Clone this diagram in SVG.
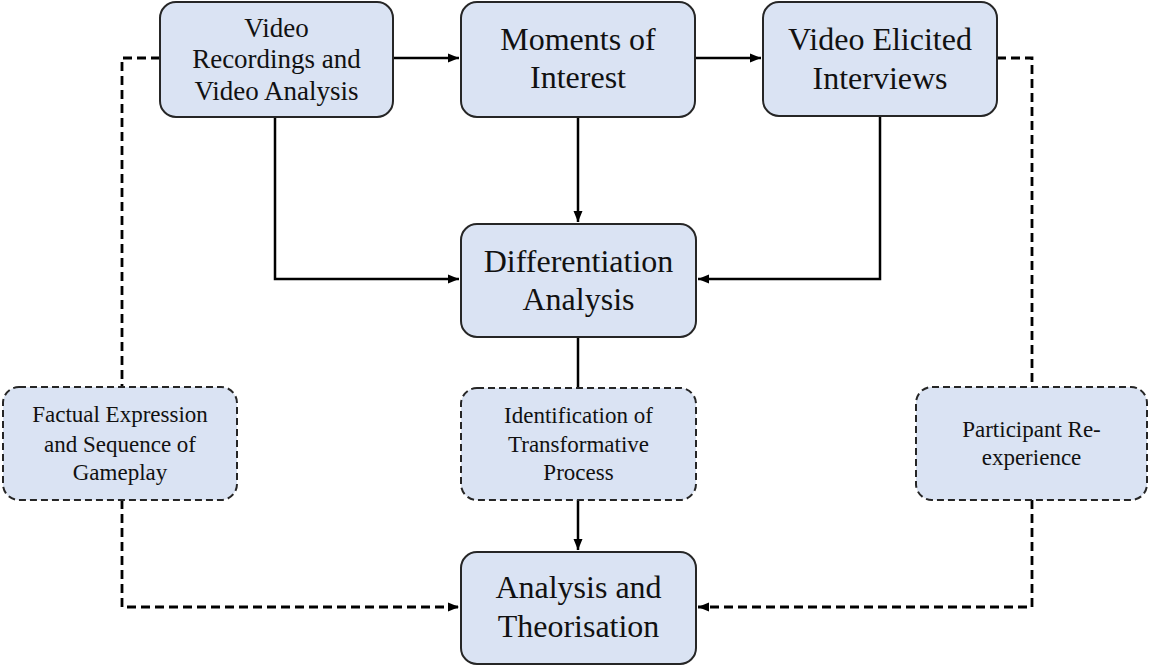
<svg xmlns="http://www.w3.org/2000/svg" width="1149" height="666" viewBox="0 0 1149 666">
  <style>
    .box { fill: #dae3f3; stroke: #262626; stroke-width: 2; }
    .dbox { fill: #dae3f3; stroke: #262626; stroke-width: 2; stroke-dasharray: 7 4; }
    text { font-family: "Liberation Serif", "Times New Roman", serif; fill: #111; text-anchor: middle; }
    .big { font-size: 32px; }
    .mid { font-size: 27px; }
    .sm { font-size: 23px; }
    .ln { fill: none; stroke: #000; stroke-width: 2.5; }
    .dash { stroke-width: 2.8; stroke-dasharray: 9 5; }
  </style>
  <defs>
    <marker id="arrow" markerUnits="userSpaceOnUse" markerWidth="12" markerHeight="10" refX="11" refY="5" orient="auto">
      <path d="M0,0.5 L11,5 L0,9.5 Z" fill="#000"/>
    </marker>
  </defs>

  <!-- solid and dashed flow lines -->
  <g id="connectors">
    <path class="ln" d="M393,58 H459" marker-end="url(#arrow)"/>
    <path class="ln" d="M695,58 H761" marker-end="url(#arrow)"/>
    <path class="ln" d="M578,117 V222" marker-end="url(#arrow)"/>
    <path class="ln" d="M275,117 V279 H459" marker-end="url(#arrow)"/>
    <path class="ln" d="M880,116 V279 H698" marker-end="url(#arrow)"/>
    <path class="ln" d="M578,337 V388"/>
    <path class="ln" d="M578,500 V550" marker-end="url(#arrow)"/>
    <path class="ln dash" d="M160,58 H122 V387"/>
    <path class="ln dash" d="M122,500 V607 H459" marker-end="url(#arrow)"/>
    <path class="ln dash" d="M997,58 H1032 V387"/>
    <path class="ln dash" d="M1032,500 V607 H698" marker-end="url(#arrow)"/>
  </g>

  <g id="video-recordings">
    <rect class="box" x="160" y="2" width="233" height="115" rx="16"/>
    <text class="mid" x="276.5" y="37">Video</text>
    <text class="mid" x="276.5" y="68">Recordings and</text>
    <text class="mid" x="276.5" y="100">Video Analysis</text>
  </g>

  <g id="moments-of-interest">
    <rect class="box" x="461" y="2" width="234" height="115" rx="16"/>
    <text class="big" x="578" y="50">Moments of</text>
    <text class="big" x="578" y="88">Interest</text>
  </g>

  <g id="video-elicited-interviews">
    <rect class="box" x="763" y="2" width="234" height="114" rx="16"/>
    <text class="big" x="880" y="50">Video Elicited</text>
    <text class="big" x="880" y="89">Interviews</text>
  </g>

  <g id="differentiation-analysis">
    <rect class="box" x="461" y="224" width="235" height="113" rx="16"/>
    <text class="big" x="578.5" y="272">Differentiation</text>
    <text class="big" x="578.5" y="310">Analysis</text>
  </g>

  <g id="factual-expression">
    <rect class="dbox" x="3" y="387" width="234" height="113" rx="16"/>
    <text class="sm" x="120" y="422">Factual Expression</text>
    <text class="sm" x="120" y="452">and Sequence of</text>
    <text class="sm" x="120" y="480">Gameplay</text>
  </g>

  <g id="transformative-process">
    <rect class="dbox" x="461" y="388" width="235" height="112" rx="16"/>
    <text class="sm" x="578.5" y="423">Identification of</text>
    <text class="sm" x="578.5" y="452">Transformative</text>
    <text class="sm" x="578.5" y="480">Process</text>
  </g>

  <g id="participant-reexperience">
    <rect class="dbox" x="916" y="387" width="231" height="113" rx="16"/>
    <text class="sm" x="1031.5" y="437">Participant Re-</text>
    <text class="sm" x="1031.5" y="465">experience</text>
  </g>

  <g id="analysis-theorisation">
    <rect class="box" x="461" y="552" width="235" height="112" rx="16"/>
    <text class="big" x="578.5" y="598">Analysis and</text>
    <text class="big" x="578.5" y="637">Theorisation</text>
  </g>
</svg>
